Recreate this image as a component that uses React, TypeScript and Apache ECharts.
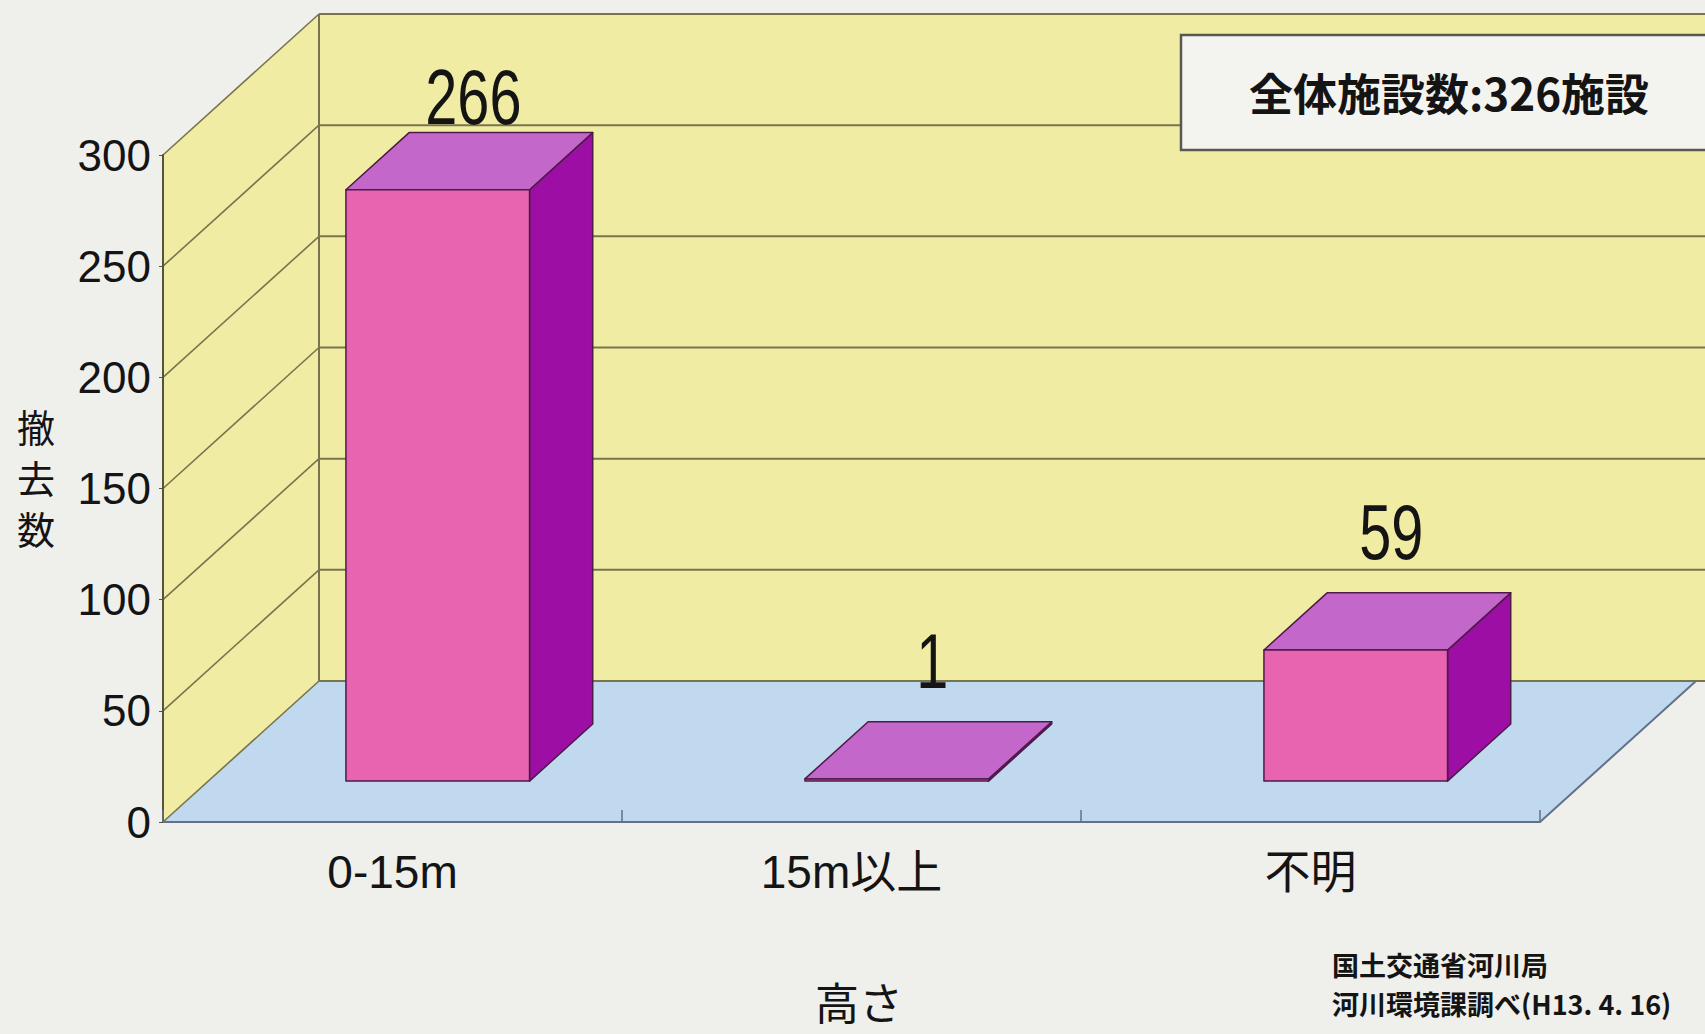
import React, { useEffect, useRef } from 'react';
import * as echarts from 'echarts';

// Removal counts by structure height
const categories = ['0-15m', '15m以上', '不明'];
const removedCounts = [266, 1, 59];
const yTicks = [0, 50, 100, 150, 200, 250, 300];
const totalNote = '全体施設数:326施設';
const sourceLines = ['国土交通省河川局', '河川環境課調べ(H13. 4. 16)'];
const yAxisName = '撤去数';
const xAxisName = '高さ';

// Oblique projection of the depth axis (pixels from front plane to back wall)
const DEPTH_DX = 156;
const DEPTH_DY = -141;
// Bars sit between these fractions of the floor depth
const BAR_FRONT = 0.29;
const BAR_BACK = 0.695;
const BAR_WIDTH = 0.4;
// Value labels float above the bar top, but never above this line (relative to the plot top)
const LABEL_GAP = 22;
const LABEL_CEILING = -19;

const LATIN = "'Liberation Sans Narrow', 'Liberation Sans', Arial, 'Noto Sans CJK JP', sans-serif";
const CJK = "'Noto Sans CJK JP', 'Liberation Sans', sans-serif";

const COLORS = {
  bg: '#efefec',
  wall: '#f1eca3',
  floor: '#c0d9ee',
  wallLine: '#77744e',
  floorLine: '#627189',
  front: '#e964b0',
  side: '#9c0ea4',
  top: '#c367ca',
  barEdge: '#4d1a4a',
  text: '#141414',
};

const yMax = yTicks[yTicks.length - 1];

export default function App() {
  const ref = useRef<HTMLDivElement>(null);

  useEffect(() => {
    if (!ref.current) return;
    const chart = echarts.init(ref.current, undefined, { renderer: 'svg' });

    const wallsItem = (params: any, api: any) => {
      const cs = params.coordSys;
      const l = cs.x;
      const r = cs.x + cs.width;
      const t = api.coord([0, yMax])[1];
      const b = api.coord([0, 0])[1];
      const dx = DEPTH_DX;
      const dy = DEPTH_DY;
      return {
        type: 'group',
        children: [
          {
            type: 'polygon',
            shape: { points: [[l + dx, t + dy], [r + dx + 12, t + dy], [r + dx + 12, b + dy], [l + dx, b + dy]] },
            style: { fill: COLORS.wall },
          },
          {
            type: 'polygon',
            shape: { points: [[l, t], [l, b], [l + dx, b + dy], [l + dx, t + dy]] },
            style: { fill: COLORS.wall },
          },
          {
            type: 'polygon',
            shape: { points: [[l, b], [r, b], [r + dx, b + dy], [l + dx, b + dy]] },
            style: { fill: COLORS.floor },
          },
          {
            type: 'line',
            shape: { x1: l + dx, y1: t + dy, x2: l + dx, y2: b + dy },
            style: { stroke: COLORS.wallLine, lineWidth: 2 },
          },
          {
            type: 'line',
            shape: { x1: r, y1: b, x2: r + dx, y2: b + dy },
            style: { stroke: COLORS.floorLine, lineWidth: 2 },
          },
        ],
      };
    };

    const gridItem = (params: any, api: any) => {
      const cs = params.coordSys;
      const l = cs.x;
      const r = cs.x + cs.width;
      const y = api.coord([0, api.value(1)])[1];
      return {
        type: 'group',
        children: [
          {
            type: 'line',
            shape: { x1: l, y1: y, x2: l + DEPTH_DX, y2: y + DEPTH_DY },
            style: { stroke: COLORS.wallLine, lineWidth: 1.6 },
          },
          {
            type: 'line',
            shape: { x1: l + DEPTH_DX, y1: y + DEPTH_DY, x2: r + DEPTH_DX + 12, y2: y + DEPTH_DY },
            style: { stroke: COLORS.wallLine, lineWidth: 2 },
          },
        ],
      };
    };

    const barItem = (params: any, api: any) => {
      const cs = params.coordSys;
      const idx = api.value(0);
      const val = api.value(1);
      const [cx, yTop] = api.coord([idx, val]);
      const yBase = api.coord([idx, 0])[1];
      const w = api.size([1, 0])[0] * BAR_WIDTH;
      const ox0 = DEPTH_DX * BAR_FRONT;
      const oy0 = DEPTH_DY * BAR_FRONT;
      const ox1 = DEPTH_DX * BAR_BACK;
      const oy1 = DEPTH_DY * BAR_BACK;
      const xL0 = cx + ox0 - w / 2;
      const xR0 = cx + ox0 + w / 2;
      const xL1 = cx + ox1 - w / 2;
      const xR1 = cx + ox1 + w / 2;
      const edge = { stroke: COLORS.barEdge, lineWidth: 1.5, lineJoin: 'round' };
      const labelY = Math.max(yTop + oy1 - LABEL_GAP, cs.y + LABEL_CEILING);
      return {
        type: 'group',
        children: [
          {
            type: 'polygon',
            shape: { points: [[xR0, yTop + oy0], [xR1, yTop + oy1], [xR1, yBase + oy1], [xR0, yBase + oy0]] },
            style: { fill: COLORS.side, ...edge },
          },
          {
            type: 'polygon',
            shape: { points: [[xL0, yTop + oy0], [xR0, yTop + oy0], [xR1, yTop + oy1], [xL1, yTop + oy1]] },
            style: { fill: COLORS.top, ...edge },
          },
          {
            type: 'rect',
            shape: { x: xL0, y: yTop + oy0, width: w, height: Math.max(yBase - yTop, 1) },
            style: { fill: COLORS.front, ...edge },
          },
          {
            type: 'text',
            x: cx + (ox0 + ox1) / 2 + 4,
            y: labelY,
            scaleX: 0.74,
            style: {
              text: String(val),
              x: 0,
              y: 0,
              fill: COLORS.text,
              fontSize: 78,
              fontFamily: "'Liberation Sans', Arial, sans-serif",
              align: 'center',
              verticalAlign: 'bottom',
            },
          },
        ],
      };
    };

    const option: any = {
      animation: false,
      backgroundColor: COLORS.bg,
      grid: { left: 163, right: 165, top: 155, bottom: 212, containLabel: false },
      xAxis: {
        type: 'category',
        data: categories,
        z: 6,
        axisLine: { show: true, lineStyle: { color: COLORS.floorLine, width: 2 } },
        axisTick: { show: true, inside: true, length: 12, lineStyle: { color: COLORS.floorLine, width: 1.5 } },
        axisLabel: { color: COLORS.text, fontSize: 46, fontFamily: LATIN, margin: 27 },
        splitLine: { show: false },
      },
      yAxis: {
        type: 'value',
        min: 0,
        max: yMax,
        interval: 50,
        z: 6,
        axisLine: { show: true, lineStyle: { color: '#55533a', width: 2 } },
        axisTick: { show: true, length: 4, lineStyle: { color: '#55533a' } },
        axisLabel: { color: COLORS.text, fontSize: 44, fontFamily: LATIN, margin: 12 },
        splitLine: { show: false },
      },
      series: [
        {
          type: 'custom',
          name: 'walls',
          silent: true,
          z: 1,
          renderItem: wallsItem,
          data: [[0, 0]],
          encode: { x: 0, y: 1 },
        },
        {
          type: 'custom',
          name: 'gridlines',
          silent: true,
          z: 2,
          renderItem: gridItem,
          data: yTicks.map((v) => [0, v]),
          encode: { x: 0, y: 1 },
        },
        {
          type: 'custom',
          name: yAxisName,
          z: 3,
          renderItem: barItem,
          data: removedCounts.map((v, i) => [i, v]),
          encode: { x: 0, y: 1 },
        },
      ],
      graphic: [
        {
          type: 'rect',
          z: 100,
          shape: { x: 1181, y: 35, width: 600, height: 115 },
          style: { fill: '#f3f3f0', stroke: '#58584f', lineWidth: 2.5 },
        },
        {
          type: 'text',
          z: 101,
          x: 1449,
          y: 92,
          style: {
            text: totalNote,
            fill: COLORS.text,
            fontSize: 44,
            fontWeight: 'bold',
            fontFamily: CJK,
            align: 'center',
            verticalAlign: 'middle',
          },
        },
        {
          type: 'text',
          x: 36,
          y: 476,
          style: {
            text: yAxisName.split('').join('\n'),
            fill: COLORS.text,
            fontSize: 38,
            lineHeight: 51,
            fontFamily: CJK,
            align: 'center',
            verticalAlign: 'middle',
          },
        },
        {
          type: 'text',
          x: 859,
          y: 1001,
          style: {
            text: xAxisName,
            fill: COLORS.text,
            fontSize: 44,
            fontFamily: CJK,
            align: 'center',
            verticalAlign: 'middle',
          },
        },
        {
          type: 'text',
          x: 1332,
          y: 984,
          style: {
            text: sourceLines.join('\n'),
            fill: COLORS.text,
            fontSize: 27,
            lineHeight: 39,
            fontWeight: 'bold',
            fontFamily: CJK,
            align: 'left',
            verticalAlign: 'middle',
          },
        },
      ],
    };

    chart.setOption(option);
    return () => chart.dispose();
  }, []);

  return (
    <div
      ref={ref}
      style={{ position: 'fixed', left: 0, top: 0, width: 1705, height: 1034 }}
    />
  );
}
